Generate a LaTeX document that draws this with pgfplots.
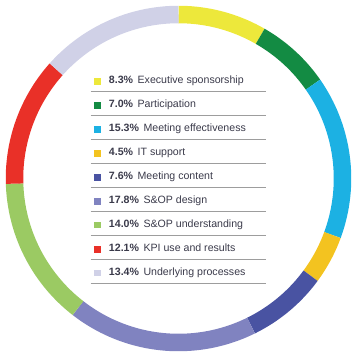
\documentclass[border=0pt]{standalone}
\usepackage{pgfplots}
\pgfplotsset{compat=1.18}
\usepackage{fontspec}
\setmainfont{Liberation Sans}
\definecolor{cA}{HTML}{EDE83B}
\definecolor{cB}{HTML}{138B43}
\definecolor{cC}{HTML}{1CB1E3}
\definecolor{cD}{HTML}{F3C320}
\definecolor{cE}{HTML}{4953A2}
\definecolor{cF}{HTML}{8083C0}
\definecolor{cG}{HTML}{9BCA63}
\definecolor{cH}{HTML}{E93028}
\definecolor{cI}{HTML}{D0D1E7}
\definecolor{txt}{HTML}{3A3A4A}
\definecolor{sep}{HTML}{9D9D9D}
% slice: #1 = cumulative percent before the slice, #2 = slice percent, #3 = colour
\newcommand{\slice}[3]{%
  \addplot[draw=#3, line width=17.5pt, line cap=butt, samples=60,
    domain={90-3.6*(#1+#2)}:{90-3.6*(#1)}, variable=\t]
    ({178.5+164*cos(\t)},{178.5+164*sin(\t)});
}
\begin{document}
\begin{tikzpicture}
\useasboundingbox (0,0) rectangle (357pt,357pt);
\begin{axis}[
  at={(0,0)}, anchor=south west,
  scale only axis, width=357pt, height=357pt,
  xmin=0, xmax=357, ymin=0, ymax=357,
  hide axis, clip=false,
  legend style={at={(axis cs:90.2,281.5)}, anchor=north west, draw=none, fill=none,
    font=\fontsize{10.6}{12}\selectfont\color{txt},
    row sep=13pt, inner sep=0pt,
    nodes={inner sep=0pt, text height=8pt, text depth=3pt},
    /tikz/every even column/.append style={column sep=0pt}},
  legend cell align=left,
  legend image code/.code={\draw[#1, line width=6.8pt, line cap=butt] (0pt,0.1pt) -- (6.8pt,0.1pt);},
]
\slice{0}{8.3}{cA}
\addlegendentry{\hspace{5pt}\textbf{8.3\%}\hspace{4.5pt}Executive sponsorship}
\slice{8.3}{7.0}{cB}
\addlegendentry{\hspace{5pt}\textbf{7.0\%}\hspace{4.5pt}Participation}
\slice{15.3}{15.3}{cC}
\addlegendentry{\hspace{5pt}\textbf{15.3\%}\hspace{4.5pt}Meeting effectiveness}
\slice{30.6}{4.5}{cD}
\addlegendentry{\hspace{5pt}\textbf{4.5\%}\hspace{4.5pt}IT support}
\slice{35.1}{7.6}{cE}
\addlegendentry{\hspace{5pt}\textbf{7.6\%}\hspace{4.5pt}Meeting content}
\slice{42.7}{17.8}{cF}
\addlegendentry{\hspace{5pt}\textbf{17.8\%}\hspace{4.5pt}S\&OP design}
\slice{60.5}{14.0}{cG}
\addlegendentry{\hspace{5pt}\textbf{14.0\%}\hspace{4.5pt}S\&OP understanding}
\slice{74.5}{12.1}{cH}
\addlegendentry{\hspace{5pt}\textbf{12.1\%}\hspace{4.5pt}KPI use and results}
\slice{86.6}{13.4}{cI}
\addlegendentry{\hspace{5pt}\textbf{13.4\%}\hspace{4.5pt}Underlying processes}
\pgfplotsinvokeforeach{0,...,8}{
  \draw[sep, line width=1.4pt] (axis cs:90.7,{265.3-24*#1}) -- (axis cs:266,{265.3-24*#1});
}
\end{axis}
\end{tikzpicture}
\end{document}
